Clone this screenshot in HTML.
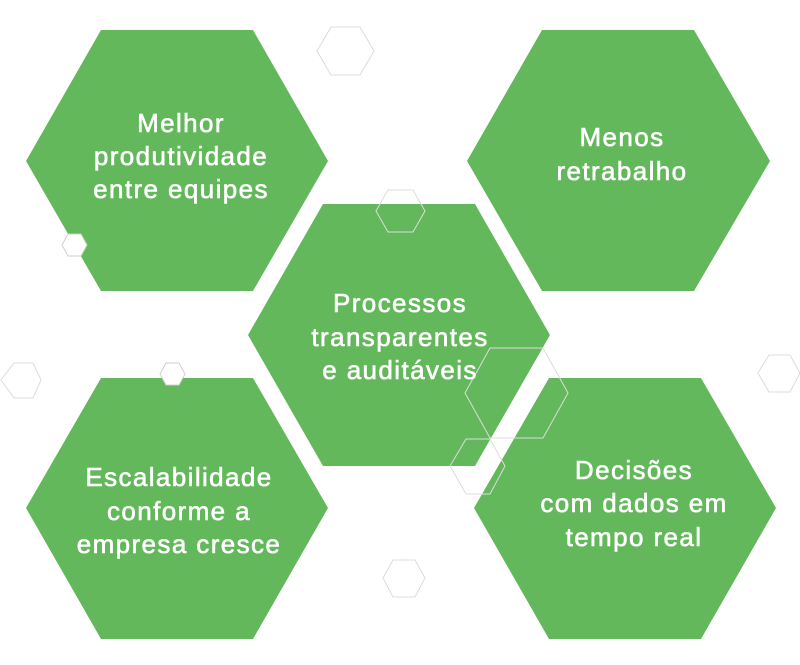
<!DOCTYPE html>
<html><head><meta charset="utf-8"><style>
html,body{margin:0;padding:0;background:#fff;}
svg{display:block}
text{font-family:"Liberation Sans",sans-serif;font-size:26px;fill:#fff;stroke:#fff;stroke-width:0.6px;text-anchor:middle;letter-spacing:1.4px}
</style></head><body>
<svg width="800" height="665" viewBox="0 0 800 665" xmlns="http://www.w3.org/2000/svg">
<g fill="#62b85a">
<polygon points="101,30 253,30 328,161 253,291 101,291 26,161"/>
<polygon points="542,30 694,30 770,161 694,291 542,291 467,161"/>
<polygon points="323,204 475,204 550,335 475,466 323,466 248,335"/>
<polygon points="101,378 253,378 328,508 253,639 101,639 26,508"/>
<polygon points="549,378 701,378 776,508 701,639 549,639 474,508"/>
</g>
<g fill="none" stroke="#dcdcdc" stroke-width="1">
<polygon points="331,27 360,27 374,51 360,75 331,75 317,51"/>
<polygon points="388,190 413,190 425,211 413,232 388,232 376,211"/>
<polygon points="14,363 33,363 41,380 33,398 14,398 1,380"/>
<polygon points="490,348 543,348 568,393 543,438 490,438 465,393"/>
<polygon points="466,439 490,439 505,466 490,494 466,494 450,466"/>
<polygon points="769,355 790,355 800,373 790,392 769,392 758,373"/>
<polygon points="393,560 415,560 425,578 415,597 393,597 383,578"/>
</g>
<g fill="#fff" stroke="#cfcfcf" stroke-width="1">
<polygon points="68,234 81,234 87,245 81,256 68,256 62,245"/>
<polygon points="166,363 179,363 185,374 179,385 166,385 160,374"/>
</g>
<text x="181" y="132">Melhor</text>
<text x="181" y="165">produtividade</text>
<text x="181" y="198">entre equipes</text>
<text x="622" y="146">Menos</text>
<text x="622" y="180">retrabalho</text>
<text x="400" y="312">Processos</text>
<text x="400" y="346">transparentes</text>
<text x="400" y="379">e auditáveis</text>
<text x="179" y="486">Escalabilidade</text>
<text x="179" y="520">conforme a</text>
<text x="179" y="553">empresa cresce</text>
<text x="634" y="479">Decisões</text>
<text x="634" y="512">com dados em</text>
<text x="634" y="546">tempo real</text>
</svg>
</body></html>
